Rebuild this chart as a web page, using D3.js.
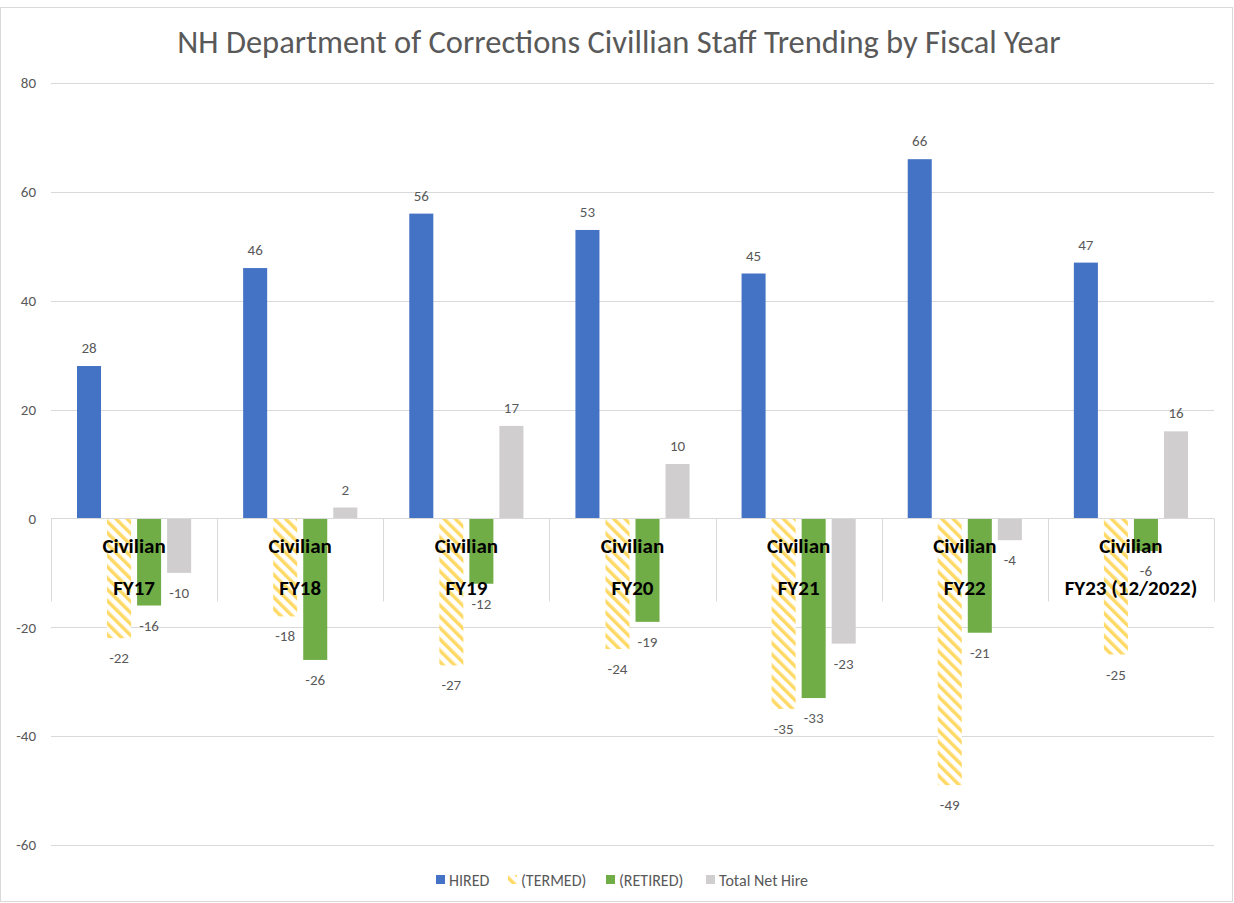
<!DOCTYPE html>
<html>
<head>
<meta charset="utf-8">
<script src="https://cdn.jsdelivr.net/npm/d3@7"></script>
<style>
  body { margin: 0; background: #fff; }
  text { font-family: Carlito, "Open Sans", sans-serif; }
</style>
</head>
<body>
<div class="chart"></div>
<script>
let categories = [['Civilian', 'FY17'], ['Civilian', 'FY18'], ['Civilian', 'FY19'], ['Civilian', 'FY20'],
  ['Civilian', 'FY21'], ['Civilian', 'FY22'], ['Civilian', 'FY23 (12/2022)']];
let seriesNames = ['HIRED', '(TERMED)', '(RETIRED)', 'Total Net Hire'];
let hired = [28, 46, 56, 53, 45, 66, 47];
let termed = [-22, -18, -27, -24, -35, -49, -25];
let retired = [-16, -26, -12, -19, -33, -21, -6];
let netHire = [-10, 2, 17, 10, -23, -4, 16];
let yTicks = [-60, -40, -20, 0, 20, 40, 60, 80];

let series = [hired, termed, retired, netHire];
let colors = ['#4472c4', 'url(#stripes)', '#70ad47', '#d0cece'];

let fullWidth = 1234, fullHeight = 903;
let margin = {top: 83, right: 20, bottom: 58, left: 51};
let width = 1214 - margin.left;
let height = 845 - margin.top;

let root = d3.select('.chart')
  .append('svg')
    .attr('width', fullWidth)
    .attr('height', fullHeight);

let defs = root.append('defs');
let pat = defs.append('pattern')
  .attr('id', 'stripes')
  .attr('patternUnits', 'userSpaceOnUse')
  .attr('width', 8)
  .attr('height', 8)
  .attr('patternTransform', 'rotate(-45)');
pat.append('rect').attr('width', 8).attr('height', 8).attr('fill', '#fff');
pat.append('rect').attr('x', 0).attr('width', 3.5).attr('height', 8).attr('fill', '#ffd966');

// chart border
root.append('rect')
  .attr('x', 0.5).attr('y', 7.5)
  .attr('width', fullWidth - 2).attr('height', fullHeight - 9)
  .attr('fill', 'none')
  .attr('stroke', '#d9d9d9');

root.append('text')
  .attr('x', 619)
  .attr('y', 53)
  .attr('text-anchor', 'middle')
  .style('font-size', '32.5px')
  .style('fill', '#595959')
  .text('NH Department of Corrections Civillian Staff Trending by Fiscal Year');

let svg = root.append('g')
  .attr('transform', `translate(${margin.left}, ${margin.top})`);

let yScale = d3.scaleLinear()
  .domain([-60, 80])
  .range([height, 0]);

let xScale = d3.scaleBand()
  .domain(d3.range(categories.length))
  .range([0, width])
  .paddingInner(0)
  .paddingOuter(0);

let innerScale = d3.scaleBand()
  .domain(d3.range(series.length))
  .range([26, xScale.bandwidth() - 26])
  .paddingInner(0.2);

// gridlines
svg.append('g')
  .selectAll('line')
  .data(yTicks)
  .join('line')
    .attr('x1', 0)
    .attr('x2', width)
    .attr('y1', d => Math.round(yScale(d)) + 0.5)
    .attr('y2', d => Math.round(yScale(d)) + 0.5)
    .attr('stroke', '#d9d9d9');

// y tick labels
svg.append('g')
  .selectAll('text')
  .data(yTicks)
  .join('text')
    .attr('x', -15)
    .attr('y', d => yScale(d))
    .attr('dy', '0.35em')
    .attr('text-anchor', 'end')
    .style('font-size', '15px')
    .style('fill', '#595959')
    .text(d => d);

// category separator ticks
svg.append('g')
  .selectAll('line')
  .data(d3.range(categories.length + 1))
  .join('line')
    .attr('x1', d => Math.round(d * xScale.bandwidth()) + 0.5)
    .attr('x2', d => Math.round(d * xScale.bandwidth()) + 0.5)
    .attr('y1', yScale(0))
    .attr('y2', yScale(0) + 83)
    .attr('stroke', '#d9d9d9');

// bars
series.forEach((vals, si) => {
  let g = svg.append('g');
  g.selectAll('rect')
    .data(vals)
    .join('rect')
      .attr('x', (d, i) => xScale(i) + innerScale(si))
      .attr('width', innerScale.bandwidth())
      .attr('y', d => yScale(Math.max(0, d)))
      .attr('height', d => Math.abs(yScale(d) - yScale(0)))
      .attr('fill', colors[si]);
  g.selectAll('text')
    .data(vals)
    .join('text')
      .attr('x', (d, i) => xScale(i) + innerScale(si) + innerScale.bandwidth() / 2)
      .attr('y', d => d >= 0 ? yScale(d) - 13 : yScale(d) + 25)
      .attr('text-anchor', 'middle')
      .style('font-size', '15px')
      .style('fill', '#595959')
      .text(d => d);
});

// zero axis line
svg.append('line')
  .attr('x1', 0).attr('x2', width)
  .attr('y1', Math.round(yScale(0)) + 0.5).attr('y2', Math.round(yScale(0)) + 0.5)
  .attr('stroke', '#d9d9d9');

// category labels
let cat = svg.append('g')
  .selectAll('g')
  .data(categories)
  .join('g')
    .attr('transform', (d, i) => `translate(${xScale(i) + xScale.bandwidth() / 2}, ${yScale(0)})`);
cat.append('text')
  .attr('y', 35)
  .attr('text-anchor', 'middle')
  .style('font-size', '21px')
  .style('font-weight', 'bold')
  .style('fill', '#000')
  .text(d => d[0]);
cat.append('text')
  .attr('y', 77)
  .attr('text-anchor', 'middle')
  .style('font-size', '21px')
  .style('font-weight', 'bold')
  .style('fill', '#000')
  .text(d => d[1]);

// legend
let legendX = [436, 508, 606, 706];
let legend = root.append('g')
  .selectAll('g')
  .data(seriesNames)
  .join('g')
    .attr('transform', (d, i) => `translate(${legendX[i]}, 880)`);
legend.append('rect')
  .attr('x', 0).attr('y', -5)
  .attr('width', 9).attr('height', 9)
  .attr('fill', (d, i) => colors[i]);
legend.append('text')
  .attr('x', 13)
  .attr('dy', '0.35em')
  .style('font-size', '16px')
  .style('fill', '#595959')
  .text(d => d);
</script>
</body>
</html>
